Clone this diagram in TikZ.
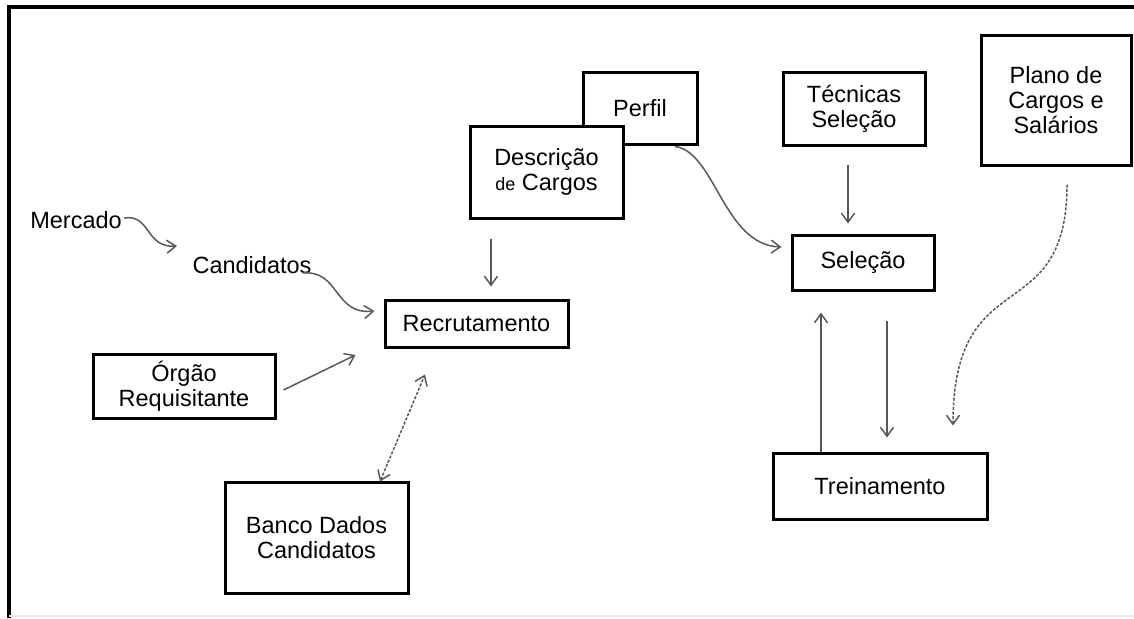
\documentclass[tikz,border=0pt]{standalone}
\usepackage{fontspec}
\setmainfont{Liberation Sans}
\usetikzlibrary{arrows.meta, calc}
\tikzset{
    box/.style={rectangle, draw=black, line width=1.5pt, fill=white, align=center, inner sep=0pt, font=\fontsize{11.75}{12.5}\selectfont},
    plain/.style={inner sep=0pt, font=\fontsize{11.75}{12.5}\selectfont},
    arrow/.style={->, >={Straight Barb[length=4.5pt,width=6.5pt]}, draw=black!65, line width=0.75pt},
    dasharrow/.style={arrow, dash pattern=on 1.5pt off 0.8pt}
}

\begin{document}
\begin{tikzpicture}[x=0.5pt, y=-0.5pt]
        \useasboundingbox (0,0) rectangle (1134,618);

        % Frame
        \draw[line width=1.6pt] (9,618) -- (9,7) -- (1134,7);
        \draw[black!8, line width=1pt] (9,616) -- (1134,616);

        % Nodes
        \node (mercado) [plain] at (76,220) {Mercado};
        \node (candidatos) [plain] at (252,265) {Candidatos};

        \node (perfil) [box, minimum width=57pt, minimum height=36pt] at (640,108) {Perfil};
        \node (desc) [box, minimum width=76.5pt, minimum height=46pt] at (546.5,172) {Descrição\\{\fontsize{9}{12.5}\selectfont de} Cargos};
        \node (tecnicas) [box, minimum width=71pt, minimum height=36.5pt] at (854,108.5) {Técnicas\\Seleção};
        \node (plano) [box, minimum width=75pt, minimum height=65pt] at (1056,100) {Plano de\\Cargos e\\Salários};

        \node (recr) [box, minimum width=91.5pt, minimum height=23.5pt] at (476.5,323.5) {Recrutamento};
        \node (orgao) [box, minimum width=91pt, minimum height=32pt] at (184,386) {Órgão\\Requisitante};
        \node (banco) [box, minimum width=91.5pt, minimum height=55.5pt] at (316.5,537.5) {Banco Dados\\Candidatos};

        \node (selecao) [box, minimum width=71pt, minimum height=27.5pt] at (863,262.5) {Seleção};
        \node (trein) [box, minimum width=107pt, minimum height=33pt] at (880,486) {Treinamento};

        % Arrows
        \draw[arrow] ($(mercado.east)+(2,-2)$) .. controls +(27,-4) and +(-32,2) .. ($(candidatos)+(-75,-19)$);
        \draw[arrow] ($(candidatos)+(51,8)$) .. controls +(37,-3) and +(-41,4) .. ($(recr.west)+(-9,-12.5)$);
        \draw[arrow] ($(orgao.east)+(7,4)$) -- ($(recr.west)+(-28,31.5)$);
        \draw[dasharrow, <->] ($(banco.north)+(63.5,1)$) -- ($(recr.south)+(-51.5,26)$);
        \draw[arrow] ($(desc.south)+(-55.5,19)$) -- ($(recr.north)+(14.5,-12)$);

        \draw[arrow] ($(perfil.south)+(35,1)$) .. controls +(40,5) and +(-58,-2) .. ($(selecao.west)+(-9,-15.5)$);
        \draw[arrow] ($(tecnicas.south)+(-6,18)$) -- ($(selecao.north)+(-15,-10)$);
        \draw[arrow] ($(trein.north)+(-59,0)$) -- ($(selecao.south)+(-42,21)$);
        \draw[arrow] ($(selecao.south)+(24,29)$) -- ($(trein.north)+(7,-14)$);
        \draw[dasharrow] ($(plano.south)+(11,18)$) .. controls +(0,147) and +(0,-167) .. ($(trein.north)+(73,-26)$);

    \end{tikzpicture}
\end{document}
